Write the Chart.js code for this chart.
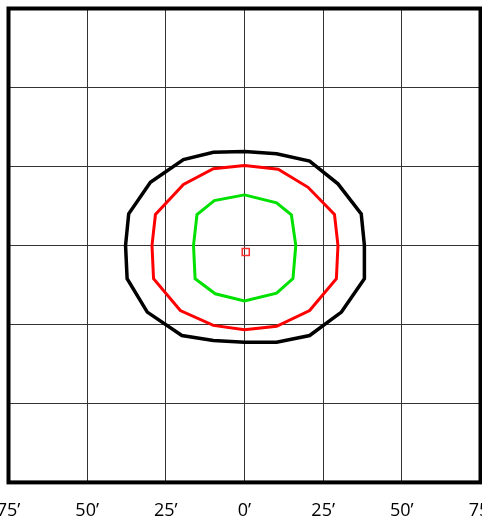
<!DOCTYPE html>
<html>
<head>
<meta charset="utf-8">
<script src="https://cdn.jsdelivr.net/npm/chart.js@4/dist/chart.umd.min.js"></script>
<style>
    html, body { margin: 0; padding: 0; background: #fff; overflow: hidden; }
    #wrap { position: absolute; left: -30px; top: 0; width: 542px; height: 540px; }
</style>
</head>
<body>
<div id="wrap"><canvas id="chart" width="542" height="540"></canvas></div>
<script>
    // axis ticks (arcmin)
    var tickValues = [-75, -50, -25, 0, 25, 50, 75];

    // outer contour (black)
    var outerX = [0, 10.2, 20.7, 29.7, 37.1, 38.1, 38.1, 30.8, 20.7, 10.2, 0, -9.9, -19.9, -30.9, -37.3, -37.8, -36.8, -29.9, -19.4, -9.9, 0];
    var outerY = [29.7, 29.0, 26.7, 19.5, 10.0, 0, -10.5, -21.1, -28.5, -30.6, -30.6, -30.1, -28.5, -21.1, -10.5, 0, 10.0, 20.0, 27.2, 29.5, 29.7];

    // middle contour (red)
    var midX = [0, 10.7, 20.2, 28.6, 29.7, 29.2, 20.7, 10.2, 0, -9.9, -20.4, -28.9, -29.4, -28.3, -19.4, -9.9, 0];
    var midY = [25.3, 24.1, 18.4, 9.8, 0, -10.5, -20.6, -25.6, -26.7, -25.3, -20.6, -10.5, 0, 9.8, 19.3, 24.3, 25.3];

    // inner contour (green)
    var innerX = [0, 10.2, 14.9, 16.3, 15.4, 10.2, 0, -9.3, -15.7, -16.2, -15.1, -9.6, 0];
    var innerY = [16.0, 13.5, 9.7, 0, -10.5, -15.1, -17.6, -15.3, -10.5, 0, 9.8, 14.2, 16.0];

    // centre marker
    var centreX = [0.4];
    var centreY = [-2.1];

    function toPoints(xs, ys) {
        var pts = [];
        for (var i = 0; i < xs.length; i++) {
            pts.push({x: xs[i], y: ys[i]});
        }
        return pts;
    }

    function contour(xs, ys, color, width) {
        return {
            data: toPoints(xs, ys),
            showLine: true,
            borderColor: color,
            borderWidth: width,
            pointRadius: 0,
            tension: 0
        };
    }

    // thick frame round the plot
    var frame = {
        id: 'frame',
        afterDraw: function (chart) {
            var a = chart.chartArea, ctx = chart.ctx;
            ctx.save();
            ctx.strokeStyle = '#000';
            ctx.lineWidth = 4;
            ctx.strokeRect(a.left, a.top, a.right - a.left, a.bottom - a.top);
            ctx.restore();
        }
    };

    var gridOpts = {
        color: '#333',
        lineWidth: 1,
        drawTicks: false
    };

    new Chart(document.getElementById('chart'), {
        type: 'scatter',
        data: {
            datasets: [
                contour(outerX, outerY, '#000000', 3.5),
                contour(midX, midY, '#ff0000', 3),
                contour(innerX, innerY, '#00e100', 3),
                {
                    data: toPoints(centreX, centreY),
                    pointStyle: 'rect',
                    pointRadius: 5,
                    borderColor: '#ff3030',
                    borderWidth: 1.5,
                    backgroundColor: 'rgba(255,255,255,0)'
                }
            ]
        },
        options: {
            responsive: false,
            animation: false,
            devicePixelRatio: 1,
            layout: {
                padding: {left: 38.5, right: 31.5, top: 8.5, bottom: 0}
            },
            plugins: {
                legend: {display: false},
                tooltip: {enabled: false}
            },
            scales: {
                x: {
                    type: 'linear',
                    min: -75,
                    max: 75,
                    afterBuildTicks: function (axis) {
                        axis.ticks = tickValues.map(function (v) { return {value: v}; });
                    },
                    ticks: {
                        padding: 18,
                        color: '#000',
                        font: {family: 'Open Sans', size: 18},
                        maxRotation: 0,
                        autoSkip: false,
                        callback: function (v) { return Math.abs(v) + '\u2019'; }
                    },
                    grid: gridOpts,
                    border: {display: false}
                },
                y: {
                    type: 'linear',
                    min: -75,
                    max: 75,
                    afterBuildTicks: function (axis) {
                        axis.ticks = tickValues.map(function (v) { return {value: v}; });
                    },
                    ticks: {display: false},
                    grid: gridOpts,
                    border: {display: false}
                }
            }
        },
        plugins: [frame]
    });
</script>
</body>
</html>
